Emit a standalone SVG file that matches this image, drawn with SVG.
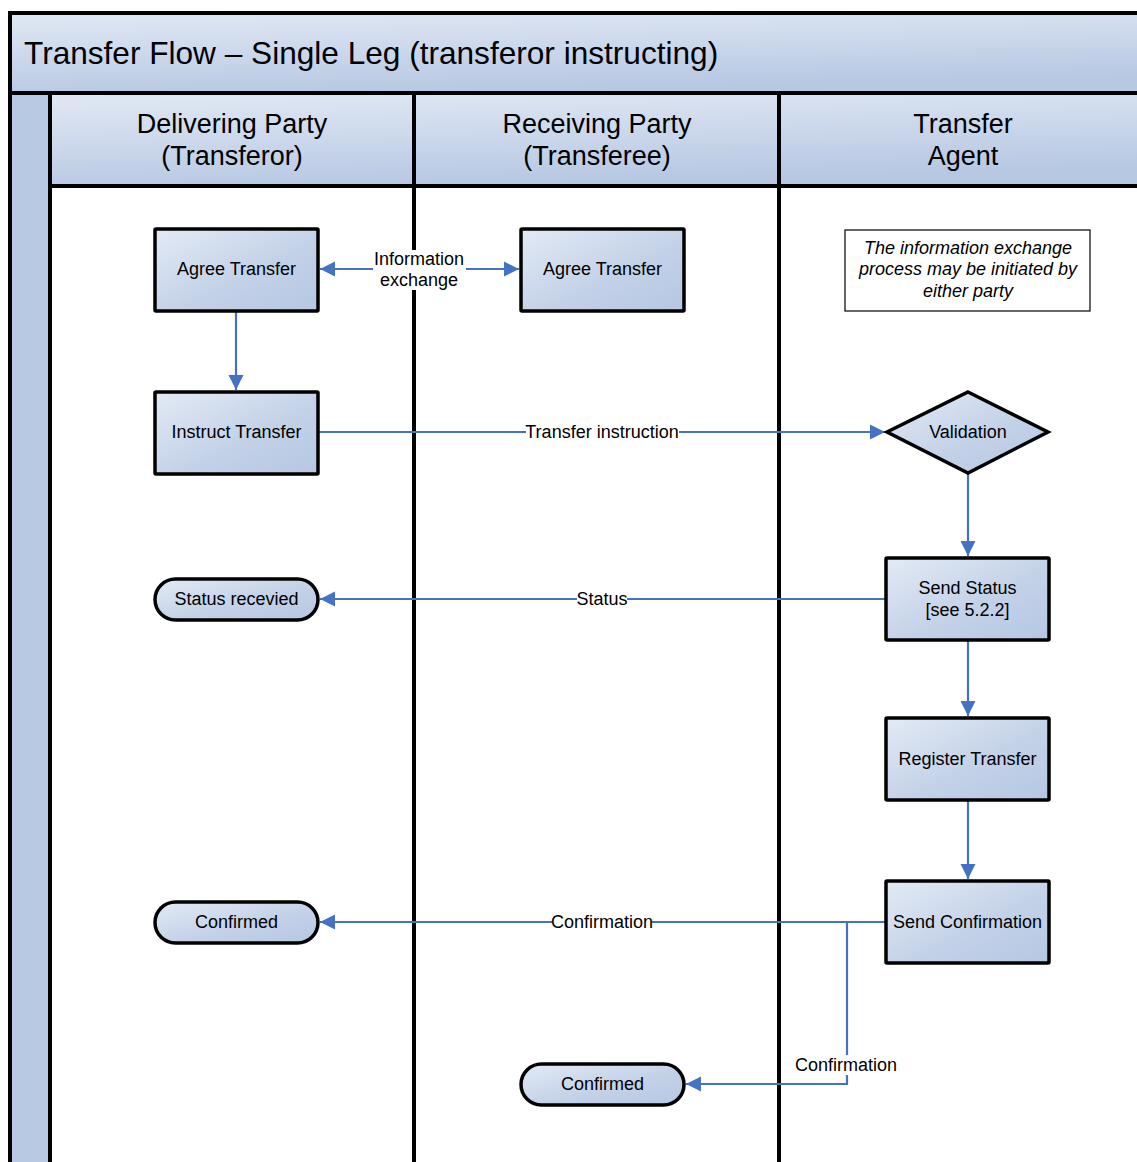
<svg xmlns="http://www.w3.org/2000/svg" width="1137" height="1162" viewBox="0 0 1137 1162">
<defs>
<linearGradient id="g" x1="0" y1="0" x2="1" y2="1">
<stop offset="0" stop-color="#E3EAF5"/>
<stop offset="0.55" stop-color="#C4D2E8"/>
<stop offset="1" stop-color="#B5C7E3"/>
</linearGradient>
<linearGradient id="hg" x1="0" y1="0" x2="0.3" y2="1">
<stop offset="0" stop-color="#E1E8F4"/>
<stop offset="1" stop-color="#B7C8E3"/>
</linearGradient>
<marker id="ar" viewBox="0 0 10 10" refX="10" refY="5" markerWidth="7" markerHeight="7.5" markerUnits="strokeWidth" orient="auto-start-reverse">
<path d="M0,0 L10,5 L0,10 z" fill="#4472C4"/>
</marker>
<style>
.sw{stroke:#000;stroke-width:4;fill:none}
.nd{fill:url(#g);stroke:#000;stroke-width:3.5}
.t{font-family:"Liberation Sans",Arial,sans-serif;font-size:18px;fill:#000;text-anchor:middle}
.h{font-family:"Liberation Sans",Arial,sans-serif;font-size:27px;fill:#000;text-anchor:middle}
.c{stroke:#4472C4;stroke-width:2.2;fill:none}
.lb{font-family:"Liberation Sans",Arial,sans-serif;font-size:18px;fill:#000;text-anchor:middle}
</style>
</defs>
<rect width="1137" height="1162" fill="#fff"/>
<g id="pool">
<rect x="10" y="13" width="1130" height="80" fill="url(#hg)"/>
<rect x="10" y="93" width="40" height="1075" fill="#B8C9E4"/>
<rect x="50" y="95" width="1090" height="91" fill="url(#hg)"/>
<line class="sw" x1="8" y1="13" x2="1140" y2="13"/>
<line class="sw" x1="10" y1="11" x2="10" y2="1165"/>
<line class="sw" x1="8" y1="93" x2="1140" y2="93"/>
<line class="sw" x1="50" y1="93" x2="50" y2="1165"/>
<line class="sw" x1="50" y1="186" x2="1140" y2="186"/>
<line class="sw" x1="414" y1="93" x2="414" y2="1165"/>
<line class="sw" x1="779" y1="93" x2="779" y2="1165"/>
<text x="24" y="64" font-family="Liberation Sans,Arial,sans-serif" font-size="31.6" fill="#000">Transfer Flow – Single Leg (transferor instructing)</text>
<text class="h" x="232" y="133">Delivering Party</text>
<text class="h" x="232" y="165">(Transferor)</text>
<text class="h" x="597" y="133">Receiving Party</text>
<text class="h" x="597" y="165">(Transferee)</text>
<text class="h" x="963" y="133">Transfer</text>
<text class="h" x="963" y="165">Agent</text>
</g>
<g id="connectors">
<line class="c" x1="320" y1="269" x2="373" y2="269" marker-start="url(#ar)"/>
<line class="c" x1="466" y1="269" x2="519" y2="269" marker-end="url(#ar)"/>
<rect x="374" y="250" width="91" height="40" fill="#fff"/>
<text class="lb" x="419" y="265">Information</text>
<text class="lb" x="419" y="286">exchange</text>
<line class="c" x1="236" y1="311" x2="236" y2="390" marker-end="url(#ar)"/>
<line class="c" x1="318" y1="432" x2="885" y2="432" marker-end="url(#ar)"/>
<rect x="526" y="422" width="153" height="20" fill="#fff"/>
<text class="lb" x="602" y="438">Transfer instruction</text>
<line class="c" x1="886" y1="599" x2="320" y2="599" marker-end="url(#ar)"/>
<rect x="577" y="589" width="50" height="20" fill="#fff"/>
<text class="lb" x="602" y="605">Status</text>
<line class="c" x1="968" y1="474" x2="968" y2="556" marker-end="url(#ar)"/>
<line class="c" x1="968" y1="641" x2="968" y2="716" marker-end="url(#ar)"/>
<line class="c" x1="968" y1="801" x2="968" y2="879" marker-end="url(#ar)"/>
<line class="c" x1="886" y1="922" x2="320" y2="922" marker-end="url(#ar)"/>
<rect x="552" y="912" width="100" height="20" fill="#fff"/>
<text class="lb" x="602" y="928">Confirmation</text>
<polyline class="c" points="847,922 847,1084 686,1084" marker-end="url(#ar)"/>
<rect x="795" y="1055" width="104" height="20" fill="#fff"/>
<text class="lb" x="846" y="1071">Confirmation</text>
</g>
<g id="agree1"><rect class="nd" x="155" y="229" width="163" height="82" rx="1"/><text class="t" x="236.5" y="275">Agree Transfer</text></g>
<g id="agree2"><rect class="nd" x="521" y="229" width="163" height="82" rx="1"/><text class="t" x="602.5" y="275">Agree Transfer</text></g>
<g id="instruct"><rect class="nd" x="155" y="392" width="163" height="82" rx="1"/><text class="t" x="236.5" y="438">Instruct Transfer</text></g>
<g id="validation"><polygon class="nd" points="968,392 1048,432 968,473 887,432"/><text class="t" x="968" y="438">Validation</text></g>
<g id="sendstatus"><rect class="nd" x="886" y="558" width="163" height="82" rx="1"/><text class="t" x="967.5" y="594">Send Status</text><text class="t" x="967.5" y="616">[see 5.2.2]</text></g>
<g id="register"><rect class="nd" x="886" y="718" width="163" height="82" rx="1"/><text class="t" x="967.5" y="765">Register Transfer</text></g>
<g id="sendconf"><rect class="nd" x="886" y="881" width="163" height="82" rx="1"/><text class="t" x="967.5" y="928">Send Confirmation</text></g>
<g id="statusrec"><rect class="nd" x="155" y="579" width="163" height="41" rx="20.5"/><text class="t" x="236.5" y="605">Status recevied</text></g>
<g id="confirmed1"><rect class="nd" x="155" y="902" width="163" height="41" rx="20.5"/><text class="t" x="236.5" y="928">Confirmed</text></g>
<g id="confirmed2"><rect class="nd" x="521" y="1064" width="163" height="41" rx="20.5"/><text class="t" x="602.5" y="1090">Confirmed</text></g>
<g id="note"><rect x="845" y="230" width="245" height="81" fill="#fff" stroke="#000" stroke-width="1.2"/>
<text class="t" x="968" y="254" font-style="italic">The information exchange</text>
<text class="t" x="968" y="275" font-style="italic">process may be initiated by</text>
<text class="t" x="968" y="297" font-style="italic">either party</text></g>
</svg>
